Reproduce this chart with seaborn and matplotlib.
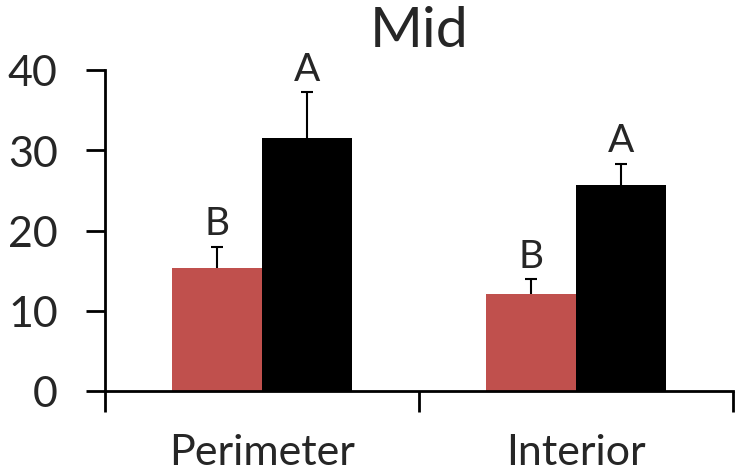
import matplotlib
matplotlib.use("Agg")
import matplotlib.pyplot as plt
import seaborn as sns
import pandas as pd
import numpy as np

categories = ["Perimeter", "Interior"]
groups = ["G1", "G2"]
red_values = [15.3, 12.1]
black_values = [31.5, 25.7]
red_err = [2.7, 1.8]
black_err = [5.7, 2.6]
red_letters = ["B", "B"]
black_letters = ["A", "A"]

sns.set_theme(style="white")
plt.rcParams['font.family'] = ['Lato', 'DejaVu Sans']

df = pd.DataFrame({
    "cat": categories * 2,
    "grp": [groups[0]] * 2 + [groups[1]] * 2,
    "val": red_values + black_values,
})

fig = plt.figure(figsize=(7.4, 4.77), dpi=100)
ax = fig.add_axes([105/740, 85/477, 628/740, 321/477])

sns.barplot(data=df, x="cat", y="val", hue="grp", order=categories, hue_order=groups,
            palette=["#C0504D", "#000000"], errorbar=None, width=0.573,
            saturation=1, ax=ax, legend=False, linewidth=0)

errs = red_err + black_err
letters = red_letters + black_letters
vals = red_values + black_values
for p, v, e, l in zip(ax.patches, vals, errs, letters):
    xc = p.get_x() + p.get_width() / 2
    ax.vlines(xc, v, v + e, color="black", lw=1.5, zorder=3)
    ax.hlines(v + e, xc - 0.018, xc + 0.018, color="black", lw=1.5, zorder=3)
    ax.annotate(l, (xc, v + e), xytext=(0, 4), textcoords="offset points",
                ha="center", va="bottom", fontsize=28)

ax.set_xlim(-0.5, 1.5)
ax.set_ylim(0, 40)
ax.set_yticks([0, 10, 20, 30, 40])
ax.set_xticks([-0.5, 0.5, 1.5], minor=False)
ax.set_xticklabels([])
ax.set_xticks([0, 1], minor=True)
ax.set_xticklabels(categories, minor=True, fontsize=31)
ax.tick_params(axis="x", which="minor", bottom=True, length=0, pad=30)
ax.tick_params(axis="x", which="major", bottom=True, direction="out", length=15, width=2, color="black")
ax.tick_params(axis="y", left=True, direction="out", length=14, width=2, color="black", labelsize=31, pad=20)
for s in ["top", "right"]:
    ax.spines[s].set_visible(False)
for s in ["left", "bottom"]:
    ax.spines[s].set_color("black")
    ax.spines[s].set_linewidth(2)
ax.set_xlabel("")
ax.set_ylabel("")
ax.set_title("Mid", fontsize=41, pad=17)

fig.savefig("out.png", dpi=100)
